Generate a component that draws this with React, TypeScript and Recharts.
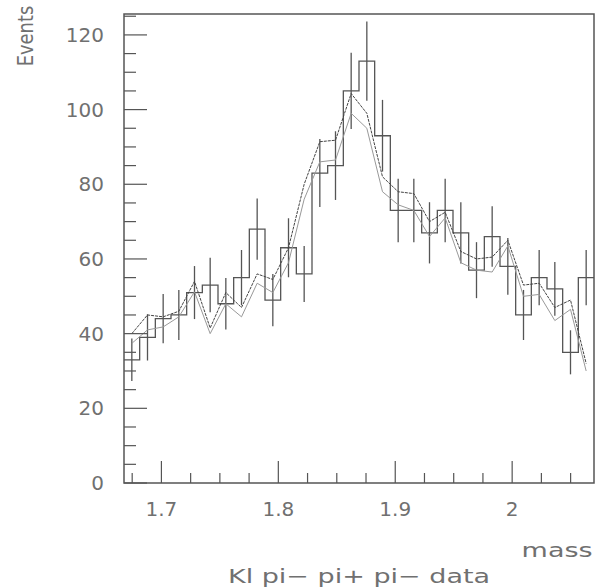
import React from "react";
import {
  ComposedChart,
  Line,
  Scatter,
  ErrorBar,
  XAxis,
  YAxis,
  ReferenceArea,
} from "recharts";

// histogram range (mass) and binning
const xMin = 1.668;
const xMax = 2.07;
const yMax = 125.6;
const nBins = 30;

// events per bin
const counts = [
  33, 39, 44, 45, 51, 53, 48, 55, 68, 49, 63, 56, 83, 85, 105, 113, 93, 73,
  73, 67, 73, 67, 57, 66, 58, 45, 55, 52, 35, 55,
];
// statistical error per bin
const countErrors = [
  5.7, 6.2, 6.6, 6.7, 7.1, 7.3, 6.9, 7.4, 8.2, 7.0, 7.9, 7.5, 9.1, 9.2, 10.2,
  10.6, 9.6, 8.5, 8.5, 8.2, 8.5, 8.2, 7.5, 8.1, 7.6, 6.7, 7.4, 7.2, 5.9, 7.4,
];
// the two fit curves, at bin centres
const fitUpper = [
  40, 45, 44.5, 46, 54, 41.5, 51, 47, 56, 54.5, 63, 80, 91.4, 91.8, 104.3, 99,
  82, 78, 77.5, 70, 72.5, 62, 60, 60.5, 65, 53, 53.5, 47, 49, 32,
];
const fitLower = [
  37.4, 41, 41.8, 44.5, 51.2, 40, 48, 44.5, 53.5, 51, 59, 76, 86, 86.5, 99, 95,
  78, 74.5, 73, 66, 71, 59, 57, 56.5, 63.5, 50, 50.5, 43.5, 46.5, 30,
];

const xTicks = [
  1.675, 1.7, 1.725, 1.75, 1.775, 1.8, 1.825, 1.85, 1.875, 1.9, 1.925, 1.95,
  1.975, 2.0, 2.025, 2.05,
];
const yTicks = [
  0, 5, 10, 15, 20, 25, 30, 35, 40, 45, 50, 55, 60, 65, 70, 75, 80, 85, 90, 95,
  100, 105, 110, 115, 120, 125,
];

const binWidth = (xMax - xMin) / nBins;
const edges = Array.from({ length: nBins + 1 }, (_, i) => xMin + i * binWidth);

const stepData = edges.map((e, i) => ({ x: e, y: counts[Math.min(i, nBins - 1)] }));
const pointData = counts.map((c, i) => ({
  x: edges[i] + binWidth / 2,
  y: c,
  err: countErrors[i],
}));
const upperData = fitUpper.map((v, i) => ({ x: edges[i] + binWidth / 2, y: v }));
const lowerData = fitLower.map((v, i) => ({ x: edges[i] + binWidth / 2, y: v }));

const FONT = "'DejaVu Sans', sans-serif";
const TEXT = "#707070";
const INK = "#555";

const isMajorX = (v: number) => Math.abs(v * 10 - Math.round(v * 10)) < 1e-6;

function XTick(props: any) {
  const { x, y, payload } = props;
  const v = payload.value as number;
  const major = isMajorX(v);
  return (
    <g>
      <line x1={x} x2={x} y1={y} y2={y - (major ? 22 : 10)} stroke={INK} strokeWidth={1.2} />
      {major && (
        <text x={x} y={y + 33} textAnchor="middle" fontSize={20} fill={TEXT} fontFamily={FONT}>
          {v === 2 ? "2" : v.toFixed(1)}
        </text>
      )}
    </g>
  );
}

function YTick(props: any) {
  const { x, y, payload } = props;
  const v = payload.value as number;
  const major = v % 20 === 0;
  return (
    <g>
      <line x1={x} x2={x + (major ? 23 : 12)} y1={y} y2={y} stroke={INK} strokeWidth={1.2} />
      {major && (
        <text x={x - 20} y={y + 7} textAnchor="end" fontSize={20} fill={TEXT} fontFamily={FONT}>
          {v}
        </text>
      )}
    </g>
  );
}

export default function App() {
  return (
    <div style={{ position: "absolute", left: 0, top: 0, width: 596, height: 588, background: "#fff" }}>
      <ComposedChart
        width={596}
        height={588}
        margin={{ top: 14, right: 2, left: 64, bottom: 65 }}
      >
        <XAxis
          type="number"
          dataKey="x"
          domain={[xMin, xMax]}
          allowDataOverflow
          ticks={xTicks}
          interval={0}
          tick={<XTick />}
          tickLine={false}
          tickSize={0}
          tickMargin={0}
          axisLine={false}
          height={40}
        />
        <YAxis
          type="number"
          dataKey="y"
          domain={[0, yMax]}
          allowDataOverflow
          ticks={yTicks}
          interval={0}
          tick={<YTick />}
          tickLine={false}
          tickSize={0}
          tickMargin={0}
          axisLine={false}
          width={60}
        />
        <ReferenceArea
          x1={xMin}
          x2={xMax}
          y1={0}
          y2={yMax}
          fill="none"
          stroke={INK}
          strokeWidth={1.5}
          fillOpacity={0}
        />
        <Line
          data={stepData}
          dataKey="y"
          type="stepAfter"
          stroke={INK}
          strokeWidth={1.3}
          dot={false}
          isAnimationActive={false}
        />
        <Scatter
          data={pointData}
          dataKey="y"
          shape={() => <g />}
          isAnimationActive={false}
        >
          <ErrorBar dataKey="err" width={0} stroke={INK} strokeWidth={1.3} direction="y" />
        </Scatter>
        <Line
          data={lowerData}
          dataKey="y"
          type="linear"
          stroke="#999"
          strokeWidth={1}
          dot={false}
          isAnimationActive={false}
        />
        <Line
          data={upperData}
          dataKey="y"
          type="linear"
          stroke="#444"
          strokeWidth={1}
          strokeDasharray="3 1"
          dot={false}
          isAnimationActive={false}
        />
      </ComposedChart>
      <div
        style={{
          position: "absolute",
          left: 26,
          top: 36,
          transform: "translate(-50%, -50%) rotate(-90deg) scaleX(0.85)",
          fontFamily: FONT,
          fontSize: 21,
          color: TEXT,
          whiteSpace: "nowrap",
          lineHeight: 1,
        }}
      >
        Events
      </div>
      <div
        style={{
          position: "absolute",
          right: 3,
          top: 538,
          transform: "scaleX(1.35)",
          transformOrigin: "right center",
          fontFamily: FONT,
          fontSize: 20,
          color: TEXT,
          whiteSpace: "nowrap",
        }}
      >
        mass
      </div>
      <div
        style={{
          position: "absolute",
          left: 359,
          top: 564,
          transform: "translateX(-50%) scaleX(1.35)",
          fontFamily: FONT,
          fontSize: 20,
          color: TEXT,
          whiteSpace: "nowrap",
        }}
      >
        Kl pi− pi+ pi− data
      </div>
    </div>
  );
}
